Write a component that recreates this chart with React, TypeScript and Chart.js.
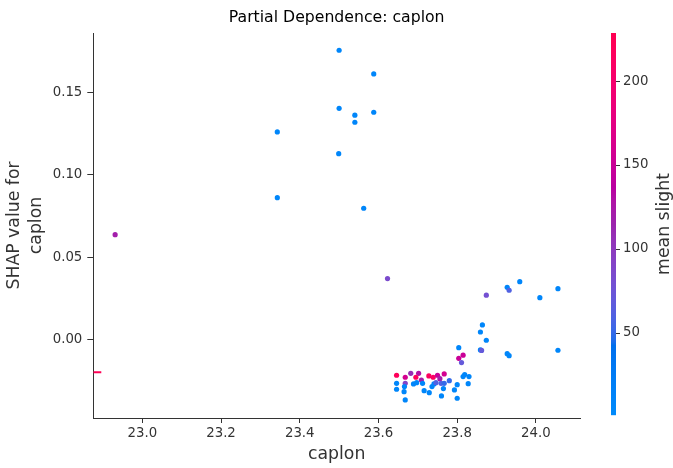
import React, { useEffect, useRef } from "react";
import { Chart, registerables } from "chart.js";

Chart.register(...registerables);

// ---- data ----
const CAPLON: number[] = [
  23.5, 23.588, 23.5, 23.54, 23.588, 23.54, 23.343, 23.499, 23.343, 23.5625,
  22.931, 23.623, 23.874, 23.959, 23.927, 23.932, 24.01, 24.056,
  23.864, 23.859, 23.874, 23.804, 23.859, 23.862, 23.927, 23.932, 24.056,
  23.815, 23.804, 23.811, 23.819, 23.815, 23.83, 23.828, 23.8, 23.793, 23.8,
  23.646, 23.668, 23.682, 23.702, 23.695, 23.728, 23.739, 23.75, 23.767, 23.756,
  23.709, 23.668, 23.646, 23.646, 23.666, 23.665, 23.668, 23.689, 23.697, 23.712,
  23.716, 23.729, 23.736, 23.741, 23.746, 23.759, 23.767, 23.765, 23.78, 23.76,
];
const SHAP_VALUES: number[] = [
  0.1758, 0.1614, 0.1405, 0.1363, 0.1381, 0.132, 0.1261, 0.1129, 0.0861, 0.0797,
  0.0636, 0.0369, 0.0268, 0.035, 0.0316, 0.0298, 0.0253, 0.0308,
  0.0087, 0.0044, -0.0006, -0.0051, -0.0065, -0.0068, -0.0088, -0.01, -0.0067,
  -0.0097, -0.0116, -0.0142, -0.0215, -0.0227, -0.0227, -0.027, -0.0276, -0.0308, -0.0359,
  -0.0219, -0.0231, -0.0207, -0.0207, -0.0231, -0.0223, -0.0231, -0.0219, -0.0211, -0.024,
  -0.0248, -0.0268, -0.0268, -0.0304, -0.0288, -0.0319, -0.0369, -0.0272, -0.0264, -0.0268,
  -0.0313, -0.0325, -0.0288, -0.0272, -0.0264, -0.0268, -0.0268, -0.03, -0.0252, -0.0345,
];
const MEAN_SLIGHT: number[] = [
  8, 8, 8, 8, 8, 8, 8, 8, 8, 8,
  120, 85, 80, 8, 10, 60, 8, 8,
  8, 8, 8, 8, 8, 70, 8, 8, 8,
  150, 150, 70, 8, 8, 8, 8, 8, 8, 8,
  220, 160, 110, 130, 220, 215, 210, 150, 160, 120,
  120, 90, 8, 8, 8, 8, 8, 8, 8, 8,
  8, 8, 8, 8, 60, 60, 50, 8, 50, 8,
];
// NaN feature value marker (drawn at the x minimum)
const NAN_SHAP: number[] = [-0.02];
const NAN_MEAN_SLIGHT: number[] = [225];

const X_TICKS: number[] = [23.0, 23.2, 23.4, 23.6, 23.8, 24.0];
const Y_TICKS: number[] = [0.0, 0.05, 0.1, 0.15];
const CBAR_TICKS: number[] = [50, 100, 150, 200];
const X_MIN = 22.8755;
const X_MAX = 24.112;
const Y_MIN = -0.0479;
const Y_MAX = 0.1863;
const C_MIN = 1.2;
const C_MAX = 228.6;

const TITLE = "Partial Dependence: caplon";
const X_LABEL = "caplon";
const Y_LABEL = ["SHAP value for", "caplon"];
const CBAR_LABEL = "mean slight";

// ---- shap red_blue colormap (LCH interpolation) ----
function lchToRgb(L: number, C: number, h: number): [number, number, number] {
  const a = C * Math.cos(h);
  const b = C * Math.sin(h);
  const fy = (L + 16) / 116;
  const fx = fy + a / 500;
  const fz = fy - b / 200;
  const finv = (t: number) => (t * t * t > 0.008856 ? t * t * t : (t - 16 / 116) / 7.787);
  const X = 0.95047 * finv(fx);
  const Y = 1.0 * finv(fy);
  const Z = 1.08883 * finv(fz);
  const lin = [
    3.2406 * X - 1.5372 * Y - 0.4986 * Z,
    -0.9689 * X + 1.8758 * Y + 0.0415 * Z,
    0.0557 * X - 0.204 * Y + 1.057 * Z,
  ];
  const g = lin.map((v) => {
    const c = v <= 0.0031308 ? 12.92 * v : 1.055 * Math.pow(Math.max(v, 0), 1 / 2.4) - 0.055;
    return Math.round(Math.min(1, Math.max(0, c)) * 255);
  });
  return [g[0], g[1], g[2]];
}
function cmap(t: number): string {
  t = Math.min(1, Math.max(0, t));
  const L = t < 0.5 ? 54 + (40 - 54) * (t / 0.5) : 40 + (54 - 40) * ((t - 0.5) / 0.5);
  const C = 70 + (90 - 70) * t;
  const h = 4.6588 + (0.35470565 + 2 * Math.PI - 4.6588) * t;
  const [r, g, b] = lchToRgb(L, C, h);
  return `rgb(${r},${g},${b})`;
}
const colorOf = (v: number) => cmap((v - C_MIN) / (C_MAX - C_MIN));

const FONT = "'DejaVu Sans', sans-serif";
const AXIS_COLOR = "#333333";

const overlayPlugin = {
  id: "overlay",
  afterDraw(chart: any) {
    const ctx = chart.ctx as CanvasRenderingContext2D;
    const ca = chart.chartArea;
    ctx.save();
    // title
    ctx.fillStyle = "#000";
    ctx.font = `15.7px ${FONT}`;
    ctx.textAlign = "center";
    ctx.textBaseline = "middle";
    ctx.fillText(TITLE, (ca.left + ca.right) / 2, 18);
    // x label
    ctx.fillStyle = AXIS_COLOR;
    ctx.font = `17.3px ${FONT}`;
    ctx.fillText(X_LABEL, (ca.left + ca.right) / 2, 455);
    // y label
    ctx.save();
    ctx.translate(0, (ca.top + ca.bottom) / 2);
    ctx.rotate(-Math.PI / 2);
    ctx.fillText(Y_LABEL[0], 0, 15);
    ctx.fillText(Y_LABEL[1], 0, 37);
    ctx.restore();
    // colorbar
    const bx = 611, bw = 5, top = 33, bottom = 415;
    const n = bottom - top;
    for (let i = 0; i < n; i++) {
      ctx.fillStyle = cmap(1 - (i + 0.5) / n);
      ctx.fillRect(bx, top + i, bw, 1.2);
    }
    ctx.font = `13.3px ${FONT}`;
    ctx.textAlign = "left";
    ctx.fillStyle = AXIS_COLOR;
    ctx.strokeStyle = AXIS_COLOR;
    ctx.lineWidth = 1;
    for (const t of CBAR_TICKS) {
      const y = bottom - ((t - C_MIN) / (C_MAX - C_MIN)) * n;
      ctx.beginPath();
      ctx.moveTo(bx + bw, Math.round(y) + 0.5);
      ctx.lineTo(bx + bw + 4, Math.round(y) + 0.5);
      ctx.stroke();
      ctx.fillText(String(t), bx + bw + 7, y);
    }
    ctx.save();
    ctx.font = `17.3px ${FONT}`;
    ctx.textAlign = "center";
    ctx.translate(665, (top + bottom) / 2);
    ctx.rotate(-Math.PI / 2);
    ctx.fillText(CBAR_LABEL, 0, 0);
    ctx.restore();
    ctx.restore();
  },
};

export default function App() {
  const ref = useRef<HTMLCanvasElement | null>(null);
  useEffect(() => {
    document.body.style.margin = "0";
    const canvas = ref.current!;
    const points = CAPLON.map((x, i) => ({ x, y: SHAP_VALUES[i] }));
    const nanPts = NAN_SHAP.map((y) => ({ x: X_MIN + (X_MAX - X_MIN) * 0.0082, y }));
    const chart = new Chart(canvas, {
      type: "scatter",
      data: {
        datasets: [
          {
            data: points,
            pointBackgroundColor: MEAN_SLIGHT.map(colorOf),
            pointBorderWidth: 0,
            pointRadius: 2.6,
            pointHoverRadius: 2.6,
          },
          {
            data: nanPts,
            pointStyle: "line",
            pointRadius: 4,
            borderColor: NAN_MEAN_SLIGHT.map(colorOf),
            pointBorderColor: NAN_MEAN_SLIGHT.map(colorOf),
            pointBorderWidth: 2,
            borderWidth: 2,
          } as any,
        ],
      },
      options: {
        animation: false,
        responsive: false,
        events: [],
        layout: { padding: { top: 33, right: 93, left: 0, bottom: 0 } },
        plugins: { legend: { display: false }, tooltip: { enabled: false }, title: { display: false } },
        scales: {
          x: {
            type: "linear",
            min: X_MIN,
            max: X_MAX,
            afterBuildTicks: (s: any) => {
              s.ticks = X_TICKS.map((v) => ({ value: v }));
            },
            afterFit: (s: any) => {
              s.height = 50;
            },
            ticks: {
              callback: (v: any) => Number(v).toFixed(1),
              font: { family: FONT, size: 13.3 },
              color: AXIS_COLOR,
              padding: 3,
              maxRotation: 0,
            },
            grid: { drawOnChartArea: false, tickLength: 5, color: AXIS_COLOR, tickWidth: 1 },
            border: { color: AXIS_COLOR, width: 1 },
          },
          y: {
            type: "linear",
            min: Y_MIN,
            max: Y_MAX,
            afterBuildTicks: (s: any) => {
              s.ticks = Y_TICKS.map((v) => ({ value: v }));
            },
            afterFit: (s: any) => {
              s.width = 93.3;
            },
            ticks: {
              callback: (v: any) => Number(v).toFixed(2),
              font: { family: FONT, size: 13.3 },
              color: AXIS_COLOR,
              padding: 5,
            },
            grid: { drawOnChartArea: false, tickLength: 6, color: AXIS_COLOR, tickWidth: 1 },
            border: { color: AXIS_COLOR, width: 1 },
          },
        },
      },
      plugins: [overlayPlugin],
    } as any);
    return () => chart.destroy();
  }, []);
  return (
    <div style={{ width: 673, height: 468 }}>
      <canvas ref={ref} width={673} height={468} style={{ display: "block" }} />
    </div>
  );
}
